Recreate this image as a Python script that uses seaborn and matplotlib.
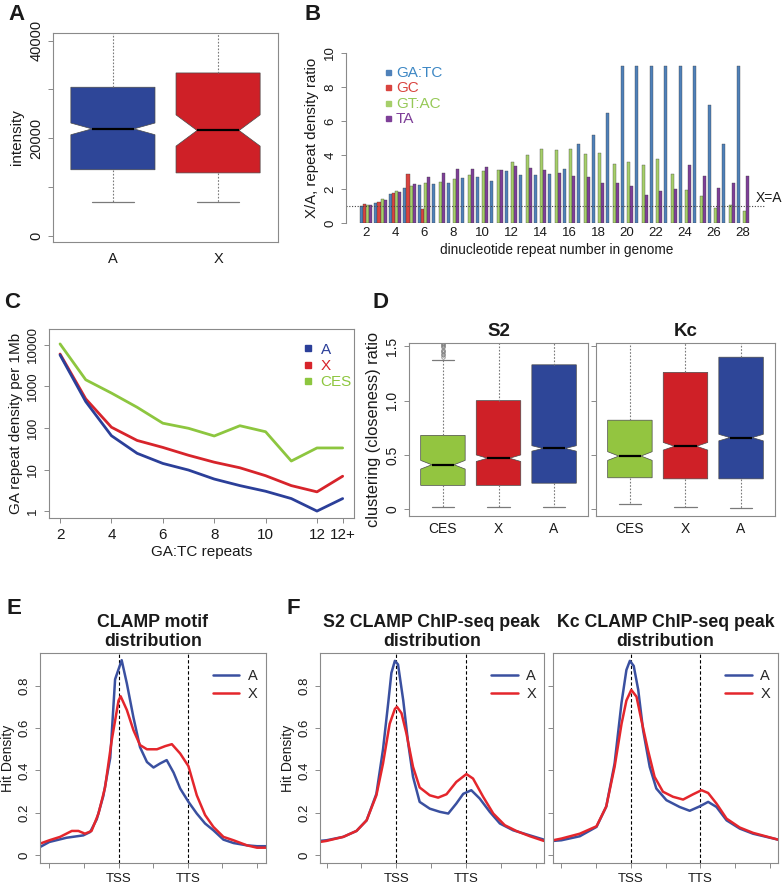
import numpy as np
import pandas as pd
import seaborn as sns
import matplotlib
matplotlib.use("Agg")
from matplotlib import pyplot as plt
from matplotlib.lines import Line2D
from matplotlib.transforms import blended_transform_factory

# ---------------- data ----------------
# A: intensity boxplot stats
a_groups = ["A", "X"]
a_whislo = [6820, 6890]
a_q1 = [13520, 12870]
a_med = [21900, 21570]
a_q3 = [30440, 33370]
a_whishi = [48000, 48000]
a_notch = [1200, 3200]

# B: X/A repeat density ratio per dinucleotide repeat number
b_repeats = list(range(2, 29))
b_gatc = [1.0, 1.2, 1.7, 2.06, 2.24, 2.31, 2.33, 2.67, 2.69, 2.49, 3.08, 2.82, 2.8, 2.9,
          3.16, 4.63, 5.16, 6.47, 9.25, 9.25, 9.25, 9.25, 9.25, 9.25, 6.92, 4.63, 9.25]
b_gc = [1.1, 1.25, 1.75, 2.86, 0.8] + [np.nan] * 22
b_gtac = [1.08, 1.41, 1.86, 2.18, 2.33, 2.41, 2.61, 2.8, 3.08, 3.14, 3.57, 3.98, 4.37, 4.29,
          4.33, 4.04, 4.1, 3.49, 3.57, 3.41, 3.76, 2.86, 1.92, 1.57, 0.9, 1.04, 0.69]
b_ta = [1.06, 1.35, 1.82, 2.3, 2.7, 2.96, 3.18, 3.2, 3.27, 3.14, 3.33, 3.24, 3.1, 2.96,
        2.75, 2.69, 2.35, 2.33, 2.18, 1.65, 1.86, 1.98, 3.39, 2.78, 2.06, 2.33, 2.78]
b_types = ["GA:TC", "GC", "GT:AC", "TA"]

# C: GA repeat density per 1Mb
c_repeats = ["2", "3", "4", "5", "6", "7", "8", "9", "10", "11", "12", "12+"]
c_a = [5700, 430, 65, 24.5, 14, 9.7, 5.9, 4.1, 3.0, 2.0, 1.0, 2.0]
c_x = [6000, 500, 104, 50, 34, 22, 15, 11, 7.1, 4.1, 2.9, 6.9]
c_ces = [10500, 1440, 690, 314, 130, 98, 64, 113, 81, 16, 33, 33]

# D: clustering (closeness) ratio boxplot stats, order CES, X, A
d_groups = ["CES", "X", "A"]
d_s2_whislo = [0.018, 0.018, 0.018]
d_s2_q1 = [0.22, 0.22, 0.24]
d_s2_med = [0.41, 0.47, 0.56]
d_s2_q3 = [0.68, 1.00, 1.33]
d_s2_whishi = [1.37, 2.0, 2.0]
d_s2_notch = [0.04, 0.03, 0.025]
d_s2_fliers = [[1.40, 1.42, 1.43, 1.45, 1.46, 1.47, 1.49, 1.50, 1.51, 1.52, 1.53], [], []]
d_kc_whislo = [0.05, 0.025, 0.015]
d_kc_q1 = [0.29, 0.28, 0.28]
d_kc_med = [0.49, 0.58, 0.66]
d_kc_q3 = [0.82, 1.26, 1.40]
d_kc_whishi = [2.0, 2.0, 2.0]
d_kc_notch = [0.04, 0.035, 0.03]

# E: CLAMP motif distribution (meta-gene position, TSS=2, TTS=4)
e_pos_a = [-0.27, 0, 0.5, 0.98, 1.18, 1.37, 1.56, 1.76, 1.9, 2.09, 2.24, 2.43, 2.62, 2.82,
           3.01, 3.2, 3.39, 3.59, 3.78, 4.02, 4.26, 4.5, 4.74, 5.03, 5.32, 5.71, 6.0, 6.26]
e_a = [0.039, 0.063, 0.083, 0.094, 0.11, 0.17, 0.28, 0.46, 0.83, 0.92, 0.81, 0.65, 0.51, 0.44,
       0.414, 0.433, 0.449, 0.39, 0.315, 0.252, 0.197, 0.15, 0.118, 0.074, 0.058, 0.047, 0.043, 0.043]
e_pos_x = [-0.27, 0, 0.31, 0.65, 0.84, 1.03, 1.22, 1.42, 1.61, 1.8, 2.0, 2.06, 2.24, 2.43, 2.62,
           2.82, 3.11, 3.35, 3.54, 3.78, 4.02, 4.26, 4.5, 4.74, 5.03, 5.32, 5.71, 6.0, 6.26]
e_x = [0.055, 0.071, 0.087, 0.115, 0.115, 0.102, 0.115, 0.197, 0.32, 0.54, 0.73, 0.75, 0.685,
       0.59, 0.52, 0.50, 0.50, 0.515, 0.524, 0.48, 0.42, 0.283, 0.19, 0.134, 0.087, 0.071,
       0.047, 0.036, 0.036]

# F: S2 and Kc CLAMP ChIP-seq peak distribution
f_s2_pos_a = [-0.19, 0, 0.48, 0.86, 1.15, 1.43, 1.62, 1.77, 1.86, 1.96, 2.05, 2.2, 2.34, 2.48,
              2.67, 2.96, 3.25, 3.49, 3.72, 3.92, 4.15, 4.39, 4.68, 4.97, 5.35, 5.73, 6.23]
f_s2_a = [0.068, 0.071, 0.087, 0.115, 0.165, 0.29, 0.50, 0.72, 0.86, 0.917, 0.90, 0.73, 0.53,
          0.37, 0.252, 0.22, 0.205, 0.197, 0.244, 0.29, 0.307, 0.268, 0.205, 0.15, 0.118, 0.099, 0.074]
f_s2_pos_x = [-0.19, 0, 0.48, 0.86, 1.15, 1.43, 1.62, 1.81, 1.96, 2.02, 2.15, 2.29, 2.48, 2.67,
              2.96, 3.2, 3.44, 3.72, 4.01, 4.2, 4.49, 4.78, 5.11, 5.44, 5.83, 6.23]
f_s2_x = [0.063, 0.068, 0.087, 0.115, 0.165, 0.283, 0.433, 0.62, 0.69, 0.70, 0.67, 0.575, 0.417,
          0.32, 0.283, 0.272, 0.288, 0.346, 0.383, 0.362, 0.276, 0.197, 0.142, 0.115, 0.09, 0.068]
f_kc_pos_a = [-0.24, 0, 0.53, 1.01, 1.29, 1.53, 1.73, 1.87, 1.97, 2.08, 2.21, 2.35, 2.54, 2.73,
              3.02, 3.4, 3.69, 3.98, 4.22, 4.46, 4.75, 5.13, 5.51, 6.23]
f_kc_a = [0.068, 0.071, 0.09, 0.134, 0.23, 0.433, 0.72, 0.874, 0.917, 0.893, 0.78, 0.59, 0.417,
          0.315, 0.26, 0.228, 0.21, 0.231, 0.252, 0.228, 0.165, 0.126, 0.102, 0.074]
f_kc_pos_x = [-0.24, 0, 0.53, 1.01, 1.29, 1.53, 1.73, 1.87, 2.01, 2.16, 2.3, 2.49, 2.68, 2.92,
              3.21, 3.5, 3.79, 4.03, 4.22, 4.46, 4.75, 5.13, 5.51, 6.23]
f_kc_x = [0.071, 0.079, 0.102, 0.137, 0.23, 0.417, 0.62, 0.73, 0.78, 0.748, 0.638, 0.496, 0.37,
          0.30, 0.276, 0.263, 0.288, 0.307, 0.294, 0.244, 0.173, 0.131, 0.106, 0.074]

# ---------------- style ----------------
sns.set_style("white")
plt.rcParams["font.family"] = ["Liberation Sans", "DejaVu Sans"]

GRAY = "#8a8a8a"
TXT = "#1a1a1a"
BOX_BLUE, BOX_RED, BOX_GREEN = "#2e4698", "#cf2027", "#93c540"
LINE_BLUE, LINE_RED = "#3a50a0", "#e4262c"


def r_frame(ax, spines=("left", "right", "top", "bottom"), labelsize=9):
    for name, sp in ax.spines.items():
        sp.set_visible(name in spines)
        sp.set_color(GRAY)
        sp.set_linewidth(0.8)
    ax.tick_params(direction="out", length=3.5, width=0.7, color=GRAY,
                   labelcolor=TXT, labelsize=labelsize, left=True, bottom=True)


def vertical_yticklabels(ax):
    ax.tick_params(axis="y", labelrotation=90)
    plt.setp(ax.get_yticklabels(), va="center")


def r_boxes(ax, whislo, q1, med, q3, whishi, notch, colors, fliers=None):
    stats = []
    for i in range(len(med)):
        stats.append(dict(whislo=whislo[i], q1=q1[i], med=med[i], q3=q3[i], whishi=whishi[i],
                          cilo=med[i] - notch[i], cihi=med[i] + notch[i],
                          fliers=fliers[i] if fliers else []))
    bp = ax.bxp(stats, positions=range(1, len(med) + 1), widths=0.8, capwidths=0.4,
                shownotches=True, patch_artist=True, manage_ticks=False,
                boxprops=dict(edgecolor="#4a4a4a", linewidth=0.5),
                whiskerprops=dict(color="#7a7a7a", linestyle=(0, (1.5, 1.5)), linewidth=0.8),
                capprops=dict(color="#7a7a7a", linewidth=0.9),
                medianprops=dict(color="black", linewidth=1.6),
                flierprops=dict(marker="o", markerfacecolor="none", markeredgecolor="#7a7a7a",
                                markersize=2.5, markeredgewidth=0.5))
    for patch, c in zip(bp["boxes"], colors):
        patch.set_facecolor(c)
    return bp


fig = plt.figure(figsize=(7.84, 8.86), dpi=100)

# ---------------- A ----------------
ax_a = fig.add_axes([0.0676, 0.7269, 0.287, 0.2359])
r_boxes(ax_a, a_whislo, a_q1, a_med, a_q3, a_whishi, a_notch, [BOX_BLUE, BOX_RED])
ax_a.set_xlim(0.43, 2.57)
ax_a.set_ylim(-1290, 41570)
r_frame(ax_a, labelsize=10.5)
ax_a.set_xticks([1, 2], a_groups)
ax_a.tick_params(axis="x", length=0, pad=7)
ax_a.set_yticks([0, 10000, 20000, 30000, 40000], ["0", "", "20000", "", "40000"])
vertical_yticklabels(ax_a)
ax_a.set_ylabel("intensity", fontsize=11, color=TXT, labelpad=4)

# ---------------- B ----------------
ax_b = fig.add_axes([0.4413, 0.7483, 0.538, 0.1919])
df_b = pd.DataFrame({
    "repeat": b_repeats * 4,
    "ratio": b_gatc + b_gc + b_gtac + b_ta,
    "type": sum([[t] * len(b_repeats) for t in b_types], []),
}).dropna()
b_fill = ["#4f81b9", "#d9443f", "#a6cf6a", "#7e3f98"]
sns.barplot(data=df_b, x="repeat", y="ratio", hue="type", order=b_repeats, hue_order=b_types,
            palette=b_fill, width=0.86, saturation=1, errorbar=None, legend=False,
            edgecolor="#3b3b3b", linewidth=0.25, ax=ax_b)
ax_b.set_xlim(-1.38, 27.7)
ax_b.set_ylim(0, 10)
r_frame(ax_b, spines=("left",), labelsize=9.5)
ax_b.set_yticks([0, 2, 4, 6, 8, 10])
vertical_yticklabels(ax_b)
ax_b.set_xticks(range(0, 27, 2), [str(n) for n in b_repeats[::2]])
ax_b.tick_params(axis="x", length=0, pad=3)
ax_b.axhline(1, xmin=0.0, xmax=0.99, color="#444444", linestyle=(0, (1, 1.5)), linewidth=0.8)
ax_b.text(0.972, 1.05, "X=A", transform=blended_transform_factory(ax_b.transAxes, ax_b.transData),
          fontsize=10, color=TXT, va="bottom", ha="left")
ax_b.set_xlabel("dinucleotide repeat number in genome", fontsize=9.8, color=TXT, labelpad=3)
ax_b.set_ylabel("X/A, repeat density ratio", fontsize=10.8, color=TXT, labelpad=4)
b_text = ["#3d87c4", "#d9443f", "#96c957", "#7e3f98"]
b_handles = [Line2D([], [], ls="none", marker="s", markersize=3.6, color=c) for c in b_fill]
ax_b.legend(b_handles, b_types, loc="upper left", bbox_to_anchor=(0.075, 0.96), frameon=False,
            handlelength=0.5, handletextpad=0.3, labelspacing=0.1, fontsize=11,
            labelcolor=b_text, borderaxespad=0)

# ---------------- C ----------------
ax_c = fig.add_axes([0.0625, 0.4153, 0.389, 0.2133])
c_pos = np.arange(len(c_repeats))
df_c = pd.DataFrame({
    "pos": np.concatenate([c_pos, c_pos, c_pos]),
    "density": c_a + c_x + c_ces,
    "chrom": ["A"] * len(c_pos) + ["X"] * len(c_pos) + ["CES"] * len(c_pos),
})
c_colors = {"A": "#2b3f99", "X": "#d7242b", "CES": "#8dc63f"}
sns.lineplot(data=df_c, x="pos", y="density", hue="chrom", hue_order=["CES", "X", "A"],
             palette=c_colors, linewidth=2, legend=False, ax=ax_c)
ax_c.set_yscale("log")
ax_c.set_xlim(-0.43, 11.44)
ax_c.set_ylim(0.68, 23900)
r_frame(ax_c, labelsize=11)
ax_c.set_yticks([1, 10, 100, 1000, 10000], ["1", "10", "100", "1000", "10000"])
ax_c.minorticks_off()
ax_c.tick_params(axis="y", labelsize=9.5)
vertical_yticklabels(ax_c)
ax_c.set_xticks([0, 2, 4, 6, 8, 10, 11], [c_repeats[i] for i in [0, 2, 4, 6, 8, 10, 11]])
ax_c.set_xlabel("GA:TC repeats", fontsize=11, color=TXT, labelpad=2)
ax_c.set_ylabel("GA repeat density per 1Mb", fontsize=11, color=TXT, labelpad=3)
c_handles = [Line2D([], [], ls="none", marker="s", markersize=5, color=c_colors[k])
             for k in ["A", "X", "CES"]]
ax_c.legend(c_handles, ["A", "X", "CES"], loc="upper left", bbox_to_anchor=(0.815, 0.96),
            frameon=False, handlelength=0.6, handletextpad=0.5, labelspacing=0.15,
            fontsize=11, borderaxespad=0,
            labelcolor=[c_colors["A"], c_colors["X"], c_colors["CES"]])

# ---------------- D ----------------
d_colors = [BOX_GREEN, BOX_RED, BOX_BLUE]
ax_d1 = fig.add_axes([0.5217, 0.4176, 0.2283, 0.1953])
ax_d2 = fig.add_axes([0.7602, 0.4176, 0.2283, 0.1953])
r_boxes(ax_d1, d_s2_whislo, d_s2_q1, d_s2_med, d_s2_q3, d_s2_whishi, d_s2_notch, d_colors,
        fliers=d_s2_fliers)
r_boxes(ax_d2, d_kc_whislo, d_kc_q1, d_kc_med, d_kc_q3, d_kc_whishi, d_kc_notch, d_colors)
for ax, title in [(ax_d1, "S2"), (ax_d2, "Kc")]:
    ax.set_xlim(0.39, 3.61)
    ax.set_ylim(-0.062, 1.531)
    r_frame(ax, labelsize=10)
    ax.set_xticks([1, 2, 3], d_groups)
    ax.tick_params(axis="x", length=0, pad=4)
    ax.set_yticks([0, 0.5, 1.0, 1.5], ["0", "0.5", "1.0", "1.5"])
    vertical_yticklabels(ax)
    ax.set_title(title, fontsize=13.5, fontweight="bold", color=TXT, pad=5)
ax_d2.tick_params(axis="y", labelleft=False)
ax_d1.set_ylabel("clustering (closeness) ratio", fontsize=11.8, color=TXT, labelpad=3)


# ---------------- E / F ----------------
def profile(ax, pos_a, val_a, pos_x, val_x, title, show_ylab):
    df = pd.DataFrame({
        "pos": pos_a + pos_x,
        "density": val_a + val_x,
        "chrom": ["A"] * len(pos_a) + ["X"] * len(pos_x),
    })
    sns.lineplot(data=df, x="pos", y="density", hue="chrom", hue_order=["A", "X"],
                 palette={"A": LINE_BLUE, "X": LINE_RED}, linewidth=1.8, estimator=None,
                 legend=False, ax=ax)
    ax.axvline(2, color="black", linestyle=(0, (3, 2)), linewidth=0.8, zorder=0)
    ax.axvline(4, color="black", linestyle=(0, (3, 2)), linewidth=0.8, zorder=0)
    ax.set_xlim(min(pos_a[0], pos_x[0]), max(pos_a[-1], pos_x[-1]))
    ax.set_ylim(-0.036, 0.954)
    r_frame(ax, labelsize=9.5)
    ax.set_xticks(range(7), ["", "", "TSS", "", "TTS", "", ""])
    ax.set_yticks([0, 0.2, 0.4, 0.6, 0.8], ["0", "0.2", "0.4", "0.6", "0.8"])
    vertical_yticklabels(ax)
    if show_ylab:
        ax.set_ylabel("Hit Density", fontsize=10, color=TXT, labelpad=2)
    else:
        ax.tick_params(axis="y", labelleft=False)
        ax.set_ylabel("")
    ax.set_xlabel("")
    ax.set_title(title, fontsize=12.8, fontweight="bold", color=TXT, pad=5, linespacing=1.15)
    handles = [Line2D([], [], color=LINE_BLUE, lw=1.8), Line2D([], [], color=LINE_RED, lw=1.8)]
    ax.legend(handles, ["A", "X"], loc="upper left", bbox_to_anchor=(0.74, 0.95), frameon=False,
              handlelength=1.8, handletextpad=0.6, labelspacing=0.25, fontsize=10.5,
              borderaxespad=0)


ax_e = fig.add_axes([0.051, 0.026, 0.2883, 0.237])
profile(ax_e, e_pos_a, e_a, e_pos_x, e_x, "CLAMP motif\ndistribution", True)
ax_f1 = fig.add_axes([0.408, 0.026, 0.2857, 0.237])
profile(ax_f1, f_s2_pos_a, f_s2_a, f_s2_pos_x, f_s2_x,
        "S2 CLAMP ChIP-seq peak\ndistribution", True)
ax_f2 = fig.add_axes([0.7054, 0.026, 0.287, 0.237])
profile(ax_f2, f_kc_pos_a, f_kc_a, f_kc_pos_x, f_kc_x,
        "Kc CLAMP ChIP-seq peak\ndistribution", False)

# panel letters
for letter, x, y in [("A", 8, 4), ("B", 305, 4), ("C", 4, 292), ("D", 372, 292),
                     ("E", 6, 598), ("F", 287, 598)]:
    fig.text(x / 784, 1 - y / 886, letter, fontsize=16, fontweight="bold", color=TXT,
             ha="left", va="top")

fig.savefig("out.png", dpi=100)
